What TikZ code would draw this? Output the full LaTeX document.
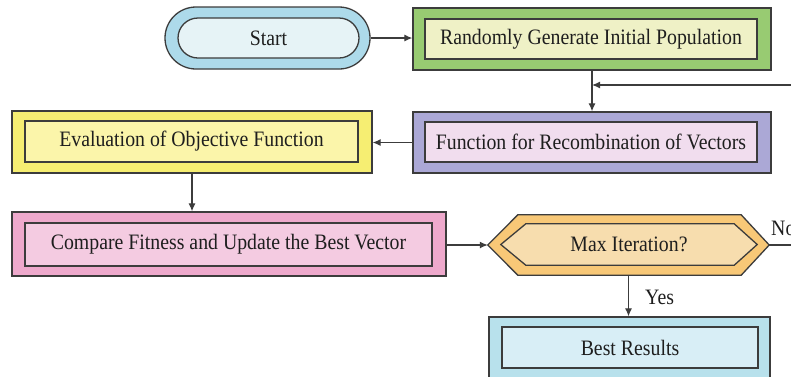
\documentclass[tikz,border=0pt]{standalone}
\usepackage{fontspec}
\setmainfont{Liberation Serif}[FakeStretch=0.9]
\usetikzlibrary{arrows.meta}
\definecolor{edge}{HTML}{3C3C3C}
\definecolor{txt}{HTML}{1E1E1E}
\definecolor{startOut}{HTML}{ADDAEA}
\definecolor{startIn}{HTML}{E6F3F6}
\definecolor{genOut}{HTML}{98CB72}
\definecolor{genIn}{HTML}{EFF1C6}
\definecolor{recOut}{HTML}{ABA8D6}
\definecolor{recIn}{HTML}{F1DDEE}
\definecolor{evalOut}{HTML}{F6EE72}
\definecolor{evalIn}{HTML}{FBF5AA}
\definecolor{compOut}{HTML}{EEA9CC}
\definecolor{compIn}{HTML}{F4CBE1}
\definecolor{hexOut}{HTML}{F8C877}
\definecolor{hexIn}{HTML}{F7DDAE}
\definecolor{bestOut}{HTML}{B8E1EC}
\definecolor{bestIn}{HTML}{D8EEF6}
\tikzset{
  outbox/.style={draw=edge, line width=1.3pt, inner sep=0pt, rectangle},
  inbox/.style={draw=edge, line width=1.3pt, inner sep=0pt, rectangle, text=txt,
    font=\fontsize{22}{26}\selectfont},
  ghost/.style={inner sep=0pt, rectangle},
  arr/.style={draw=edge, line width=1.2pt, -{Latex[length=8pt,width=7pt]}},
  plain/.style={draw=edge, line width=1.2pt},
  lbl/.style={text=txt, inner sep=0pt, font=\fontsize{22}{26}\selectfont},
}
\begin{document}
\begin{tikzpicture}[x=1pt,y=-1pt]
\useasboundingbox (0,0) rectangle (791,376);
\clip (0,0) rectangle (791,376);
\fill[white] (0,0) rectangle (791,376);

% Start
\node[outbox, fill=startOut, minimum width=205pt, minimum height=62pt, rounded corners=31pt] (start) at (267.5,38) {};
\node[inbox, fill=startIn, minimum width=181pt, minimum height=40pt, rounded corners=20pt] (startin) at (268.5,38) {Start};

% Randomly generate
\node[outbox, fill=genOut, minimum width=358pt, minimum height=62pt] (gen) at (592,39) {};
\node[inbox, fill=genIn, minimum width=332pt, minimum height=40pt] (genin) at (591,39) {Randomly Generate Initial Population};

% Recombination
\node[outbox, fill=recOut, minimum width=358pt, minimum height=61pt] (rec) at (592,142.5) {};
\node[inbox, fill=recIn, minimum width=332pt, minimum height=40pt] (recin) at (591,142) {Function for Recombination of Vectors};

% Evaluation
\node[outbox, fill=evalOut, minimum width=360pt, minimum height=62pt] (eval) at (192,142) {};
\node[inbox, fill=evalIn, minimum width=333pt, minimum height=41pt] (evalin) at (191.5,141.5) {Evaluation of Objective Function};

% Compare
\node[outbox, fill=compOut, minimum width=434pt, minimum height=64pt] (comp) at (229,244) {};
\node[inbox, fill=compIn, minimum width=407pt, minimum height=43pt] (compin) at (228.5,244.5) {Compare Fitness and Update the Best Vector};

% Max iteration hexagon
\node[ghost, minimum width=281pt, minimum height=60pt] (hex) at (628.5,245) {};
\draw[draw=edge, line width=1.3pt, fill=hexOut]
  (hex.west) -- ([xshift=30pt]hex.north west) -- ([xshift=-28pt]hex.north east) -- (hex.east)
  -- ([xshift=-28pt]hex.south east) -- ([xshift=30pt]hex.south west) -- cycle;
\node[ghost, minimum width=256pt, minimum height=41pt] (hexin) at (629,244.5) {};
\draw[draw=edge, line width=1.3pt, fill=hexIn]
  (hexin.west) -- ([xshift=25pt]hexin.north west) -- ([xshift=-23pt]hexin.north east) -- (hexin.east)
  -- ([xshift=-23pt]hexin.south east) -- ([xshift=25pt]hexin.south west) -- cycle;
\node[lbl] (hextxt) at (hexin) {Max Iteration?};

% Best results
\node[outbox, fill=bestOut, minimum width=281pt, minimum height=66pt] (best) at (629.5,350) {};
\node[inbox, fill=bestIn, minimum width=256pt, minimum height=41pt] (bestin) at (630,347.5) {Best Results};

% Connectors
\draw[arr] (start.east) -- (gen.west |- start.east);
\draw[arr] (gen.south) -- (rec.north);
\coordinate (fb) at (800,85);
\draw[arr] (fb) -- (fb -| gen.south);
\draw[arr] (rec.west) -- (rec.west -| eval.east);
\draw[arr] (eval.south) -- (eval.south |- comp.north);
\draw[arr] (comp.east |- hex.west) -- (hex.west);
\coordinate (noend) at (800,245);
\draw[plain] (hex.east) -- (noend);
\draw[arr] (hex.south) -- (hex.south |- best.north);

% Labels
\node[lbl, anchor=west] (nolbl) at (771,228) {No};
\node[lbl, anchor=west] (yeslbl) at (645,297) {Yes};
\end{tikzpicture}
\end{document}
